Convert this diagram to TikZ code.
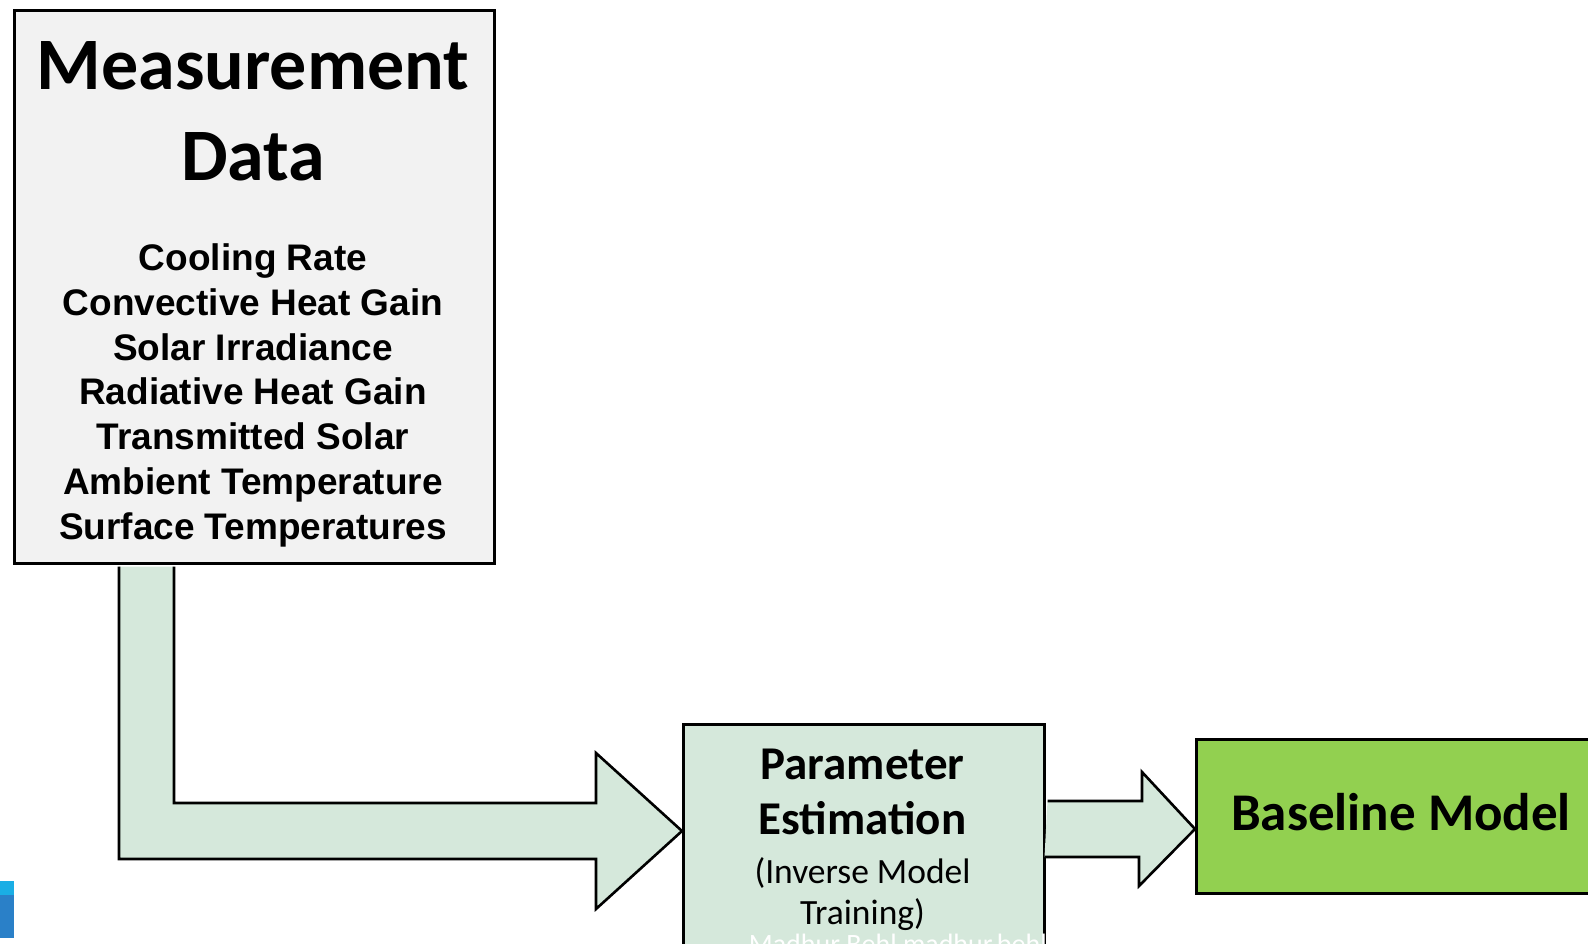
\documentclass[tikz,border=0pt]{standalone}
\usepackage{fontspec}
\setmainfont{Carlito}
\newfontfamily\listfont{Liberation Sans}
\usetikzlibrary{calc}

\definecolor{boxgray}{HTML}{F2F2F2}
\definecolor{palegreen}{HTML}{D5E8DB}
\definecolor{leafgreen}{HTML}{92D050}
\definecolor{tabblue}{HTML}{2A80C8}
\definecolor{tabcyan}{HTML}{1AAEE5}

\begin{document}
\begin{tikzpicture}[x=1pt, y=-1pt, line width=3pt,
    box/.style={draw, rectangle, inner sep=0pt, anchor=north west},
    flow/.style={draw, fill=palegreen, line width=2.6pt, line join=miter}]
    \clip (0,0) rectangle (1588,943);

    \node[box, fill=boxgray, minimum width=480, minimum height=553] (meas) at (13,9) {};
    \node[box, fill=palegreen, minimum width=361, minimum height=260] (param) at (682,723) {};
    \node[box, fill=leafgreen, minimum width=412, minimum height=154] (base) at (1195,738) {};

    % base anchor sits on the last line
    \node[anchor=base, align=center, font=\fontsize{74}{91}\selectfont\bfseries] (title) at (253,180) {Measurement\\Data};
    \node[anchor=base, align=center, font=\listfont\fontsize{37}{44.8}\selectfont\bfseries] (vars) at (253,539.3)
        {Cooling Rate\\Convective Heat Gain\\Solar Irradiance\\Radiative Heat Gain\\Transmitted Solar\\Ambient Temperature\\Surface Temperatures};

    \node[anchor=base, align=center, font=\fontsize{47}{55}\selectfont\bfseries] (paramtitle) at (862.5,834) {Parameter\\Estimation};
    \node[anchor=base, align=center, font=\fontsize{35.5}{41.5}\selectfont] (paramnote) at (862.5,924.5) {(Inverse Model\\Training)};
    \begin{scope}
        \clip (param.north west) rectangle (param.south east);
        \node[anchor=base west, text=white, font=\fontsize{28}{34}\selectfont] (mark) at (744,953) {Madhur Behl madhur.behl};
    \end{scope}

    \node[anchor=base, font=\fontsize{53}{64}\selectfont\bfseries] (basetext) at (1401,830) {Baseline Model};

    % block arrows
    \coordinate (tip1) at ($(param.north west)+(0,108)$);
    \coordinate (tip2) at ($(base.north west)+(0,91)$);
    \draw[flow] ($(meas.south west)+(106,1.5)$) |- ($(tip1)+(-86,28)$) -- ++(0,50) -- (tip1)
        -- ++(-86,-78) -- ++(0,50) -| ($(meas.south west)+(161,1.5)$);
    \draw[flow] (tip2 -| param.east) ++(1.5,-28) -- ++(94.5,0) -- ++(0,-29) -- (tip2)
        -- ++(-56,57) -- ++(0,-29) -- ++(-94.5,0);

    \fill[tabblue] (0,881) rectangle (14,938);
    \fill[tabcyan] (0,881) rectangle (14,895);
\end{tikzpicture}
\end{document}
